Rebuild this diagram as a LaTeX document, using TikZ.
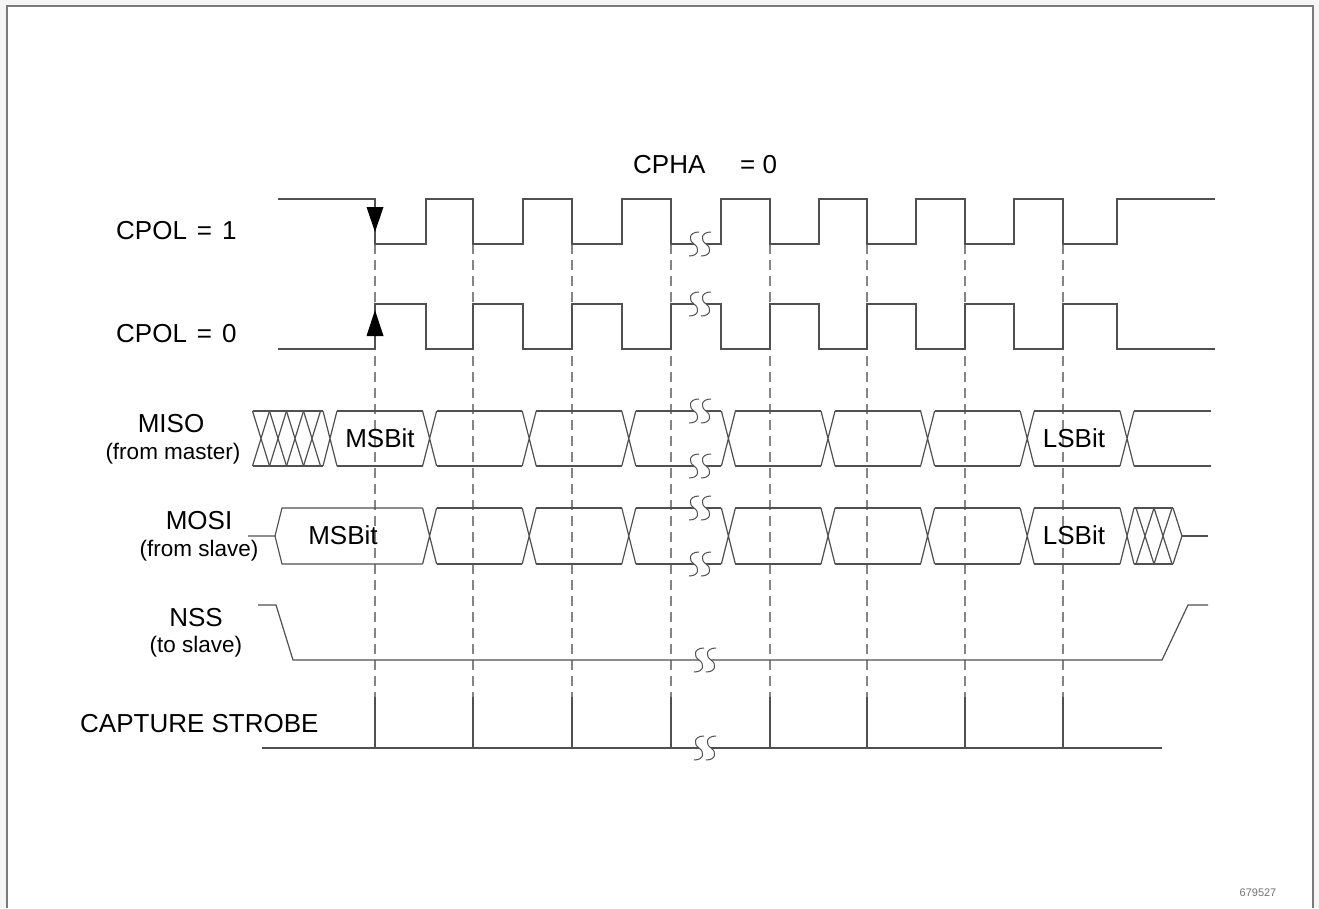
\documentclass[tikz,border=0pt]{standalone}
\usepackage{fontspec}
\setmainfont{Liberation Sans}
\usetikzlibrary{arrows.meta}
\definecolor{wave}{HTML}{505050}
\definecolor{guidec}{HTML}{858585}
\definecolor{framec}{HTML}{7a7a7a}
\begin{document}
\begin{tikzpicture}[x=1pt,y=-1pt,
  sig/.style={draw=wave,line width=1.2pt,line join=miter},
  guide/.style={draw=guidec,line width=1.1pt,dash pattern=on 10pt off 6pt},
  lbl/.style={inner sep=0pt,font=\fontsize{26}{30}\selectfont,text=black},
  sublbl/.style={inner sep=0pt,font=\fontsize{22.5}{27}\selectfont,text=black},
  brk/.pic={
    \draw[wave,line width=1pt] (5,-12) .. controls (-5,-12) and (-6,-4) .. (0,0) .. controls (6,4) and (5,12) .. (-5,12);
    \draw[wave,line width=1pt] (17,-12) .. controls (7,-12) and (6,-4) .. (12,0) .. controls (18,4) and (17,12) .. (7,12);
  }]
\useasboundingbox (0,0) rectangle (1319,908);
% background and frame
\fill[black!4] (0,0) rectangle (1319,908);
\fill[white] (7,6) rectangle (1313,908);
\draw[framec,line width=2pt] (7,908) -- (7,6) -- (1313,6) -- (1313,908);

% guides
\foreach \x in {375,473,572,671,770,867,965,1063} {
  \draw[guide] (\x,244) -- (\x,697);
}

% titles
\node[lbl,anchor=west] (cpha) at (633,165) {CPHA};
\node[lbl,anchor=west] (cphav) at (740,165) {= 0};
\node[lbl,anchor=west] (cpol1) at (116,231) {CPOL\hspace{10pt}=\hspace{10pt}1};
\node[lbl,anchor=west] (cpol0) at (116,334) {CPOL\hspace{10pt}=\hspace{10pt}0};
\node[lbl] (miso) at (171,424) {MISO};
\node[sublbl] (misob) at (173,454) {(from master)};
\node[lbl] (mosi) at (199,521) {MOSI};
\node[sublbl] (mosib) at (199,551) {(from slave)};
\node[lbl] (nss) at (196,618) {NSS};
\node[sublbl] (nssb) at (196,647) {(to slave)};
\node[lbl,anchor=west] (cap) at (80,724) {CAPTURE STROBE};
\node[inner sep=0pt,font=\fontsize{11}{13}\selectfont,text=black!55] (fig) at (1258,893) {679527};

% CPOL = 1
\draw[sig] (278,199) -- (375,199) -- (375,244) -- (426,244) -- (426,199) -- (473,199) -- (473,244)
  -- (523,244) -- (523,199) -- (572,199) -- (572,244) -- (622,244) -- (622,199) -- (671,199) -- (671,244) -- (694,244);
\draw[sig] (706,244) -- (721,244) -- (721,199) -- (770,199) -- (770,244) -- (819,244) -- (819,199) -- (867,199) -- (867,244)
  -- (916,244) -- (916,199) -- (965,199) -- (965,244) -- (1014,244) -- (1014,199) -- (1063,199) -- (1063,244)
  -- (1117,244) -- (1117,199) -- (1215,199);
\pic (b1) at (694,244) {brk};
\fill[black] (366.5,207) -- (383.5,207) -- (375,232) -- cycle;

% CPOL = 0
\draw[sig] (278,349) -- (375,349) -- (375,304) -- (426,304) -- (426,349) -- (473,349) -- (473,304)
  -- (523,304) -- (523,349) -- (572,349) -- (572,304) -- (622,304) -- (622,349) -- (671,349) -- (671,304) -- (694,304);
\draw[sig] (706,304) -- (721,304) -- (721,349) -- (770,349) -- (770,304) -- (819,304) -- (819,349) -- (867,349) -- (867,304)
  -- (916,304) -- (916,349) -- (965,349) -- (965,304) -- (1014,304) -- (1014,349) -- (1063,349) -- (1063,304)
  -- (1117,304) -- (1117,349) -- (1215,349);
\pic (b2) at (694,304) {brk};
\fill[black] (366.5,336) -- (383.5,336) -- (375,310) -- cycle;

% MISO
\foreach \c in {261,278,295,312} {
  \draw[sig] (\c-8.5,411) -- (\c+8.5,466) (\c-8.5,466) -- (\c+8.5,411);
}
\draw[sig] (252.5,411) -- (323,411) (252.5,466) -- (323,466);
\foreach \c in {330,429.6,529.2,628.8,728.4,828,927.6,1027.2,1127} {
  \draw[sig] (\c-7,411) -- (\c+7,466) (\c-7,466) -- (\c+7,411);
}
\foreach \a/\b in {337/422.6,436.6/522.2,536.2/621.8,635.8/694,706/721.4,735.4/821,835/920.6,934.6/1020.2,1034.2/1120,1134/1211} {
  \draw[sig] (\a,411) -- (\b,411) (\a,466) -- (\b,466);
}
\pic (b3) at (694,411) {brk};
\pic (b4) at (694,466) {brk};
\node[lbl] (msb1) at (380,438) {MSBit};
\node[lbl] (lsb1) at (1074,438) {LSBit};

% MOSI
\draw[sig] (248,536) -- (275,536) -- (282,508) -- (422.6,508);
\draw[sig] (275,536) -- (282,564) -- (422.6,564);
\foreach \c in {429.6,529.2,628.8,728.4,828,927.6,1027.2,1127} {
  \draw[sig] (\c-7,508) -- (\c+7,564) (\c-7,564) -- (\c+7,508);
}
\foreach \a/\b in {436.6/522.2,536.2/621.8,635.8/694,706/721.4,735.4/821,835/920.6,934.6/1020.2,1034.2/1120,1134/1173} {
  \draw[sig] (\a,508) -- (\b,508) (\a,564) -- (\b,564);
}
\foreach \c in {1145,1163} {
  \draw[sig] (\c-9,508) -- (\c+9,564) (\c-9,564) -- (\c+9,508);
}
\draw[sig] (1173,508) -- (1182,536) -- (1173,564);
\draw[sig] (1182,536) -- (1208,536);
\pic (b5) at (694,508) {brk};
\pic (b6) at (694,564) {brk};
\node[lbl] (msb2) at (343,535) {MSBit};
\node[lbl] (lsb2) at (1074,535) {LSBit};

% NSS
\draw[sig] (258,605) -- (276,605) -- (293,660) -- (699,660);
\draw[sig] (711,660) -- (1162,660) -- (1188,605) -- (1208,605);
\pic (b7) at (699,660) {brk};

% capture strobe
\draw[sig] (262,748) -- (699,748);
\draw[sig] (711,748) -- (1162,748);
\pic (b8) at (699,748) {brk};
\foreach \x in {375,473,572,671,770,867,965,1063} {
  \draw[sig] (\x,697) -- (\x,748);
}
\end{tikzpicture}
\end{document}
